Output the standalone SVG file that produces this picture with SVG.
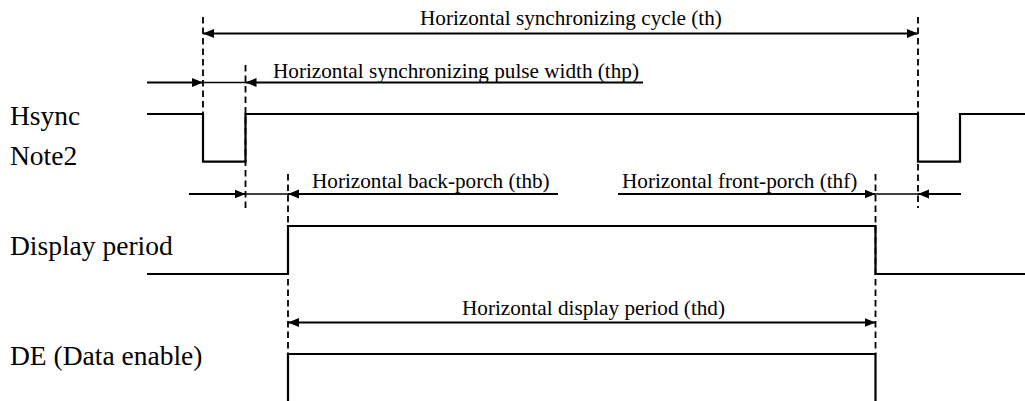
<svg xmlns="http://www.w3.org/2000/svg" width="1025" height="401" viewBox="0 0 1025 401">
<defs>
<style>
.sig{fill:none;stroke:#000;stroke-width:2.2}
.dash{fill:none;stroke:#000;stroke-width:1.8;stroke-dasharray:6.5,4}
.arr{fill:none;stroke:#000;stroke-width:2.2}
.thin{fill:none;stroke:#000;stroke-width:1.4}
.lbl{font-family:"Liberation Serif","Times New Roman",serif;font-size:27.5px;fill:#000}
.ann{font-family:"Liberation Serif","Times New Roman",serif;font-size:21.2px;fill:#000}
</style>
<marker id="ah" markerUnits="userSpaceOnUse" markerWidth="12" markerHeight="10" refX="11" refY="4.5" orient="auto-start-reverse" viewBox="0 0 12 9">
<path d="M0,0 L11,4.5 L0,9 z" fill="#000"/>
</marker>
</defs>
<rect width="1025" height="401" fill="#fff"/>
<g id="labels">
<text class="lbl" x="10" y="125">Hsync</text>
<text class="lbl" x="10" y="165">Note2</text>
<text class="lbl" x="10" y="255">Display period</text>
<text class="lbl" x="10" y="365">DE (Data enable)</text>
</g>
<g id="guides">
<line class="dash" x1="203" y1="17" x2="203" y2="114"/>
<line class="dash" x1="245.5" y1="65" x2="245.5" y2="208"/>
<line class="dash" x1="288" y1="174" x2="288" y2="354"/>
<line class="dash" x1="875.5" y1="174" x2="875.5" y2="354"/>
<line class="dash" x1="918" y1="17" x2="918" y2="208"/>
</g>
<g id="hsync">
<polyline class="sig" points="147,114 203,114 203,161.7 245.5,161.7 245.5,114 918,114 918,161.7 960,161.7 960,114 1025,114"/>
</g>
<g id="display-period">
<polyline class="sig" points="147,274 288,274 288,226 875.5,226 875.5,274 1025,274"/>
</g>
<g id="de">
<polyline class="sig" points="288,401 288,354 875.5,354 875.5,401"/>
</g>
<g id="connectors">
<line class="arr" x1="203" y1="33.5" x2="918" y2="33.5" marker-start="url(#ah)" marker-end="url(#ah)"/>
<line class="arr" x1="147" y1="82.5" x2="203" y2="82.5" marker-end="url(#ah)"/>
<line class="thin" x1="203" y1="82.5" x2="245.5" y2="82.5"/>
<line class="arr" x1="643" y1="82.5" x2="245.5" y2="82.5" marker-end="url(#ah)"/>
<line class="arr" x1="189" y1="194" x2="245.5" y2="194" marker-end="url(#ah)"/>
<line class="thin" x1="245.5" y1="194" x2="288" y2="194"/>
<line class="arr" x1="558" y1="194" x2="288" y2="194" marker-end="url(#ah)"/>
<line class="arr" x1="618" y1="194" x2="875.5" y2="194" marker-end="url(#ah)"/>
<line class="thin" x1="875.5" y1="194" x2="918" y2="194"/>
<line class="arr" x1="961" y1="194" x2="918" y2="194" marker-end="url(#ah)"/>
<line class="arr" x1="288" y1="322.5" x2="875.5" y2="322.5" marker-start="url(#ah)" marker-end="url(#ah)"/>
</g>
<g id="annotations">
<text class="ann" x="420" y="25">Horizontal synchronizing cycle (th)</text>
<text class="ann" x="273" y="78">Horizontal synchronizing pulse width (thp)</text>
<text class="ann" x="312" y="188">Horizontal back-porch (thb)</text>
<text class="ann" x="622" y="188">Horizontal front-porch (thf)</text>
<text class="ann" x="462" y="315">Horizontal display period (thd)</text>
</g>
</svg>
